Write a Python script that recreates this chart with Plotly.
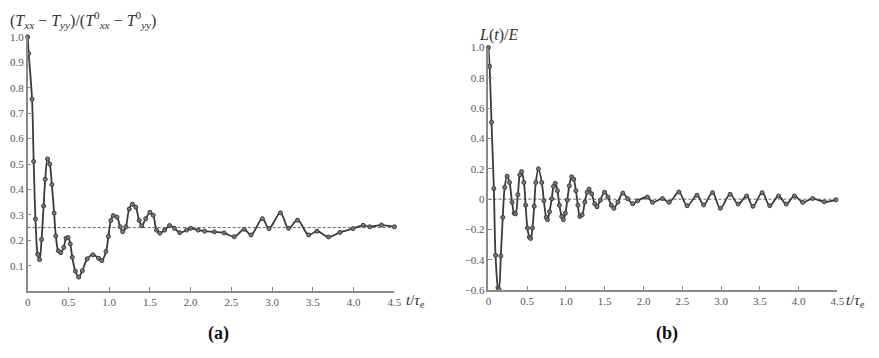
import plotly.graph_objects as go

# Panel (a): normalized normal stress difference
t_a = [0.0, 0.012, 0.053, 0.073, 0.095, 0.122, 0.145, 0.17, 0.195, 0.215, 0.243, 0.27,
       0.296, 0.324, 0.345, 0.375, 0.405, 0.442, 0.47, 0.495, 0.522, 0.547, 0.585, 0.625,
       0.67, 0.73, 0.8, 0.87, 0.91, 0.96, 0.99, 1.02, 1.05, 1.095, 1.135, 1.165, 1.204,
       1.245, 1.285, 1.326, 1.367, 1.4, 1.448, 1.5, 1.54, 1.58, 1.62, 1.68, 1.74, 1.8,
       1.865, 1.95, 2.0, 2.09, 2.17, 2.29, 2.41, 2.534, 2.656, 2.74, 2.879, 2.96, 3.10,
       3.2, 3.31, 3.447, 3.55, 3.69, 3.83, 3.99, 4.116, 4.197, 4.34, 4.5]
v_a = [1.0, 0.935, 0.755, 0.51, 0.284, 0.145, 0.124, 0.203, 0.335, 0.44, 0.52, 0.5,
       0.419, 0.307, 0.217, 0.159, 0.151, 0.172, 0.208, 0.211, 0.186, 0.133, 0.078, 0.055,
       0.08, 0.127, 0.143, 0.129, 0.12, 0.156, 0.215, 0.278, 0.297, 0.291, 0.253, 0.234, 0.253,
       0.323, 0.342, 0.33, 0.278, 0.257, 0.285, 0.31, 0.298, 0.24, 0.228, 0.24, 0.258, 0.247,
       0.23, 0.24, 0.247, 0.24, 0.236, 0.233, 0.229, 0.214, 0.243, 0.221, 0.285, 0.246, 0.308,
       0.247, 0.279, 0.221, 0.236, 0.213, 0.231, 0.246, 0.259, 0.253, 0.26, 0.253]
ref_a = 0.25

# Panel (b): L(t)/E
t_b = [0.0, 0.015, 0.04, 0.07, 0.092, 0.123, 0.135, 0.16, 0.185, 0.21, 0.241, 0.272,
       0.305, 0.332, 0.349, 0.38, 0.405, 0.428, 0.458, 0.48, 0.503, 0.528, 0.545, 0.568,
       0.59, 0.611, 0.645, 0.688, 0.715, 0.745, 0.762, 0.788, 0.817, 0.839, 0.862, 0.89,
       0.915, 0.945, 0.966, 0.992, 1.017, 1.043, 1.073, 1.1, 1.128, 1.154, 1.179, 1.209,
       1.243, 1.273, 1.298, 1.332, 1.37, 1.4, 1.443, 1.498, 1.541, 1.584, 1.618, 1.669,
       1.733, 1.796, 1.86, 1.924, 2.05, 2.116, 2.244, 2.33, 2.456, 2.563, 2.69, 2.775,
       2.89, 2.99, 3.116, 3.22, 3.33, 3.41, 3.53, 3.627, 3.742, 3.84, 3.946, 4.052,
       4.18, 4.33, 4.48]
v_b = [1.0, 0.876, 0.507, 0.07, -0.37, -0.583, -0.595, -0.375, -0.12, 0.078, 0.152, 0.11,
       -0.02, -0.093, -0.097, 0.03, 0.16, 0.182, 0.11, -0.04, -0.19, -0.25, -0.259, -0.19,
       -0.047, 0.11, 0.2, 0.11, -0.01, -0.12, -0.135, -0.082, 0.003, 0.084, 0.105, 0.056,
       -0.04, -0.114, -0.135, -0.093, -0.007, 0.088, 0.148, 0.131, 0.056, -0.04, -0.114, -0.103,
       -0.019, 0.046, 0.067, 0.035, -0.03, -0.05, -0.007, 0.046, 0.014, -0.04, -0.06, -0.019,
       0.04, 0.003, -0.03, -0.011, 0.014, -0.021, 0.004, -0.021, 0.047, -0.043, 0.026, -0.038,
       0.043, -0.06, 0.032, -0.032, 0.021, -0.047, 0.043, -0.043, 0.021, -0.032, 0.021, -0.021,
       0.004, -0.017, -0.004]
ref_b = 0.0

x_ticks = [0, 0.5, 1.0, 1.5, 2.0, 2.5, 3.0, 3.5, 4.0, 4.5]
x_ticktext = ["0", "0.5", "1.0", "1.5", "2.0", "2.5", "3.0", "3.5", "4.0", "4.5"]
ya_ticks = [0.1, 0.2, 0.3, 0.4, 0.5, 0.6, 0.7, 0.8, 0.9, 1.0]
ya_ticktext = ["0.1", "0.2", "0.3", "0.4", "0.5", "0.6", "0.7", "0.8", "0.9", "1.0"]
yb_ticks = [-0.6, -0.4, -0.2, 0, 0.2, 0.4, 0.6, 0.8, 1.0]
yb_ticktext = ["−0.6", "−0.4", "−0.2", "0", "0.2", "0.4", "0.6", "0.8", "1.0"]

W, H = 879, 358
SERIF = "Times New Roman, Liberation Serif, DejaVu Serif, serif"
LINE = "#3a3a3a"
AX = "#8a8a8a"
TXT = "#555555"

fig = go.Figure()

def add_panel(t, v, ref, xa, ya):
    fig.add_trace(go.Scatter(x=[0, 4.5], y=[ref, ref], mode="lines", xaxis=xa, yaxis=ya,
                             line=dict(color="#666666", width=1, dash="3px,2px"),
                             hoverinfo="skip", showlegend=False))
    fig.add_trace(go.Scatter(x=t, y=v, mode="lines+markers", xaxis=xa, yaxis=ya,
                             line=dict(color=LINE, width=1.8, shape="spline", smoothing=1.0),
                             marker=dict(symbol="circle", size=4, color="#7a7a7a",
                                         line=dict(color=LINE, width=1)),
                             cliponaxis=False, showlegend=False))

add_panel(t_a, v_a, ref_a, "x", "y")
add_panel(t_b, v_b, ref_b, "x2", "y2")

def px_x(p):
    return p / W

def px_y(p):
    return 1 - p / H

axis_common = dict(showline=True, linecolor=AX, linewidth=1.5, ticks="inside", ticklen=4,
                   tickwidth=1.2, tickcolor=AX, showgrid=False, zeroline=False,
                   tickfont=dict(family=SERIF, size=11, color=TXT))

fig.update_layout(
    width=W, height=H, margin=dict(l=0, r=0, t=0, b=0),
    paper_bgcolor="white", plot_bgcolor="white",
    xaxis=dict(domain=[px_x(25), px_x(396)], range=[0, 4.5], tickvals=x_ticks,
               ticktext=x_ticktext, anchor="y", **axis_common),
    yaxis=dict(domain=[px_y(295), px_y(32)], range=[0, 1.0], tickvals=ya_ticks,
               ticktext=ya_ticktext, anchor="x", **axis_common),
    xaxis2=dict(domain=[px_x(491), px_x(844)], range=[0, 4.5], tickvals=x_ticks,
                ticktext=x_ticktext, anchor="y2", **axis_common),
    yaxis2=dict(domain=[px_y(294), px_y(43)], range=[-0.6, 1.0], tickvals=yb_ticks,
                ticktext=yb_ticktext, anchor="x2", **axis_common),
)

ann_font = dict(family=SERIF, size=16, color="#333333")
fig.add_annotation(xref="paper", yref="paper", x=px_x(5), y=px_y(15), xanchor="left",
                   yanchor="middle", showarrow=False, font=ann_font,
                   text="(<i>T</i><sub><i>xx</i></sub> − <i>T</i><sub><i>yy</i></sub>)/"
                        "(<i>T</i><sup>0</sup><sub><i>xx</i></sub> − <i>T</i><sup>0</sup><sub><i>yy</i></sub>)")
fig.add_annotation(xref="paper", yref="paper", x=px_x(479), y=px_y(30), xanchor="left",
                   yanchor="middle", showarrow=False, font=ann_font,
                   text="<i>L</i>(<i>t</i>)/<i>E</i>")
for xx in (406, 851):
    fig.add_annotation(xref="paper", yref="paper", x=px_x(xx), y=px_y(305), xanchor="left",
                       yanchor="middle", showarrow=False,
                       font=dict(family=SERIF, size=15, color="#333333"),
                       text="<i>t</i>/<i>τ</i><sub><i>e</i></sub>")
for xx, lab in ((218, "(a)"), (672, "(b)")):
    fig.add_annotation(xref="paper", yref="paper", x=px_x(xx), y=px_y(339), xanchor="center",
                       yanchor="middle", showarrow=False,
                       font=dict(family=SERIF, size=18, color="#111111"),
                       text="<b>" + lab + "</b>")

fig.write_html("out.html")
